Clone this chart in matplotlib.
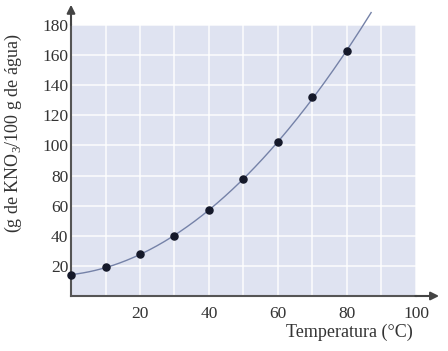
import numpy as np
import matplotlib.pyplot as plt

# solubilidade do KNO3 (g / 100 g de agua)
temperatura = [0, 10, 20, 30, 40, 50, 60, 70, 80]
solubilidade = [14, 19, 28, 40, 57, 78, 102, 132, 163]
xticks = [20, 40, 60, 80, 100]
yticks = [20, 40, 60, 80, 100, 120, 140, 160, 180]

plt.rcParams['font.family'] = ['Liberation Serif', 'DejaVu Serif']
plt.rcParams['mathtext.fontset'] = 'custom'
plt.rcParams['mathtext.rm'] = 'Liberation Serif'

fig = plt.figure(figsize=(4.48, 3.51), dpi=100)
ax = fig.add_axes([0.1585, 0.1567, 0.770, 0.772])
ax.set_facecolor('#dfe3f1')

# curva suave ajustada aos pontos
coef = np.polyfit(temperatura, solubilidade, 3)
xs = np.linspace(0, 87, 200)
ax.plot(xs, np.polyval(coef, xs), color='#7582a8', lw=1.0, clip_on=False, zorder=3)
ax.scatter(temperatura, solubilidade, s=26, color='#15192a', zorder=4, clip_on=False)

ax.set_xlim(0, 100)
ax.set_ylim(0, 180)
ax.set_xticks(np.arange(10, 101, 10))
ax.set_xticklabels(['' if t not in xticks else str(t) for t in np.arange(10, 101, 10)])
ax.set_yticks(yticks)
ax.set_yticklabels([str(t) for t in yticks])
ax.grid(True, color='white', lw=1.1, alpha=0.9)
ax.set_axisbelow(True)
ax.tick_params(length=0, labelsize=12.5, colors='#333333')
ax.tick_params(axis='x', pad=7)
ax.tick_params(axis='y', pad=2)

for s in ['top', 'right']:
    ax.spines[s].set_visible(False)
for s in ['left', 'bottom']:
    ax.spines[s].set_color('#555555')
    ax.spines[s].set_linewidth(1.5)

# setas dos eixos
ax.annotate('', xy=(1.075, 0), xytext=(0.99, 0), xycoords='axes fraction',
            arrowprops=dict(arrowstyle='-|>', color='#444444', lw=1.5, mutation_scale=12))
ax.annotate('', xy=(0, 1.085), xytext=(0, 0.99), xycoords='axes fraction',
            arrowprops=dict(arrowstyle='-|>', color='#444444', lw=1.5, mutation_scale=12))

fig.text(0.922, 0.052, 'Temperatura (°C)', ha='right', va='center', fontsize=13, color='#333333')
fig.text(0.03, 0.62, '(g de KNO$_3$/100 g de água)', rotation=90, ha='center', va='center',
         fontsize=13, color='#333333')

fig.savefig('out.png', dpi=100, facecolor='white')
